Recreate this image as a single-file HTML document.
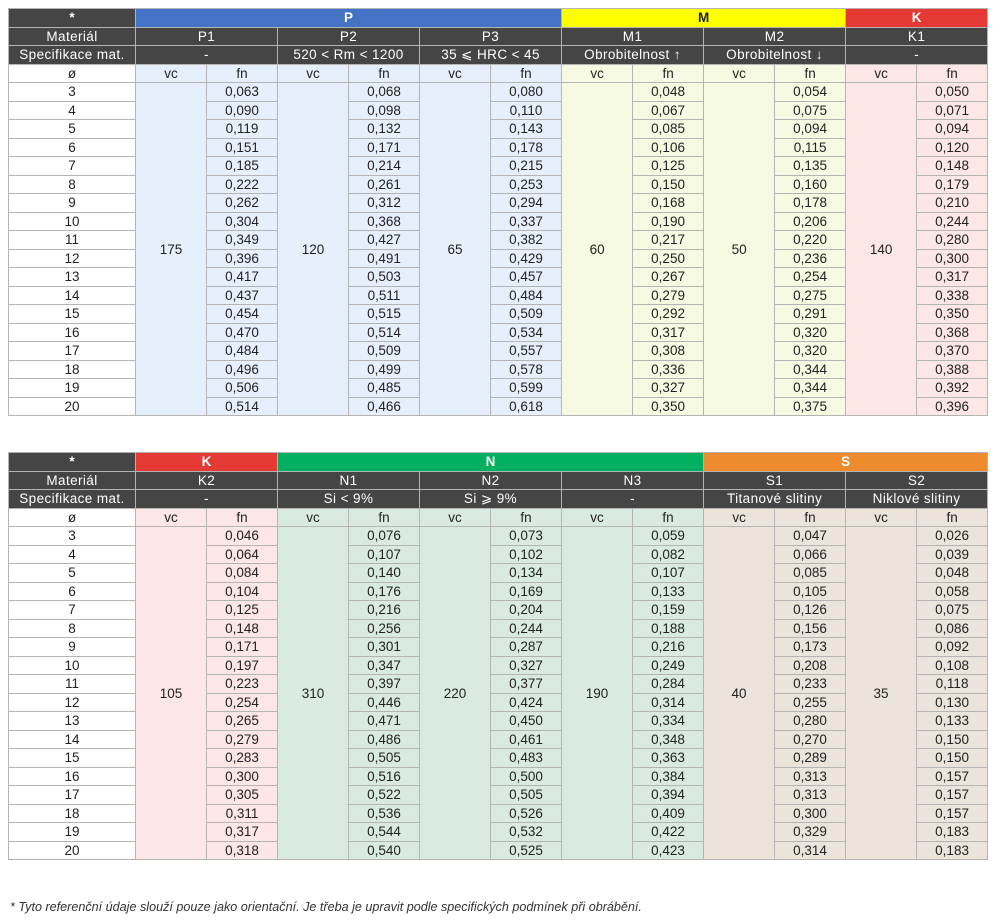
<!DOCTYPE html>
<html><head><meta charset="utf-8"><style>
body{margin:0;width:1000px;height:921px;background:#fff;position:relative;overflow:hidden;font-family:"Liberation Sans",sans-serif;}
table{position:absolute;left:8px;border-collapse:collapse;table-layout:fixed;width:979px;font-size:13.5px;color:#222;}
td{border:1px solid #b4b4b4;height:17.5px;padding:0;text-align:center;line-height:17px;white-space:nowrap;overflow:hidden;}
tr{height:18.5px;}
.d{background:#454545;color:#fff;}
.d td{letter-spacing:0.4px}
.h td{font-weight:bold;color:#fff;}
.bl{background:#4472c4}.ye{background:#ffff00;color:#222!important}.re{background:#e53935}.gr{background:#00b060}.or{background:#ee8b2e}
.p{background:#e6f0fc}.m{background:#f6fae3}.k{background:#fce6e6}.n{background:#d9ebe1}.s{background:#ece3da}
.w{background:#fff}
.fn{position:absolute;left:10px;top:900px;font-size:12.6px;font-style:italic;color:#333;}
</style></head><body>
<table style="top:8px">
<colgroup><col style="width:127px"><col span="12" style="width:71px"></colgroup>
<tr class="h"><td class="d">*</td><td colspan="6" class="bl">P</td><td colspan="4" class="ye">M</td><td colspan="2" class="re">K</td></tr>
<tr class="d"><td>Materiál</td><td colspan="2">P1</td><td colspan="2">P2</td><td colspan="2">P3</td><td colspan="2">M1</td><td colspan="2">M2</td><td colspan="2">K1</td></tr>
<tr class="d"><td>Specifikace mat.</td><td colspan="2">-</td><td colspan="2">520 &lt; Rm &lt; 1200</td><td colspan="2">35 ⩽ HRC &lt; 45</td><td colspan="2">Obrobitelnost ↑</td><td colspan="2">Obrobitelnost ↓</td><td colspan="2">-</td></tr>
<tr><td class="w">ø</td><td class="p">vc</td><td class="p">fn</td><td class="p">vc</td><td class="p">fn</td><td class="p">vc</td><td class="p">fn</td><td class="m">vc</td><td class="m">fn</td><td class="m">vc</td><td class="m">fn</td><td class="k">vc</td><td class="k">fn</td></tr>
<tr><td>3</td><td rowspan="18" class="p">175</td><td class="p">0,063</td><td rowspan="18" class="p">120</td><td class="p">0,068</td><td rowspan="18" class="p">65</td><td class="p">0,080</td><td rowspan="18" class="m">60</td><td class="m">0,048</td><td rowspan="18" class="m">50</td><td class="m">0,054</td><td rowspan="18" class="k">140</td><td class="k">0,050</td></tr>
<tr><td>4</td><td class="p">0,090</td><td class="p">0,098</td><td class="p">0,110</td><td class="m">0,067</td><td class="m">0,075</td><td class="k">0,071</td></tr>
<tr><td>5</td><td class="p">0,119</td><td class="p">0,132</td><td class="p">0,143</td><td class="m">0,085</td><td class="m">0,094</td><td class="k">0,094</td></tr>
<tr><td>6</td><td class="p">0,151</td><td class="p">0,171</td><td class="p">0,178</td><td class="m">0,106</td><td class="m">0,115</td><td class="k">0,120</td></tr>
<tr><td>7</td><td class="p">0,185</td><td class="p">0,214</td><td class="p">0,215</td><td class="m">0,125</td><td class="m">0,135</td><td class="k">0,148</td></tr>
<tr><td>8</td><td class="p">0,222</td><td class="p">0,261</td><td class="p">0,253</td><td class="m">0,150</td><td class="m">0,160</td><td class="k">0,179</td></tr>
<tr><td>9</td><td class="p">0,262</td><td class="p">0,312</td><td class="p">0,294</td><td class="m">0,168</td><td class="m">0,178</td><td class="k">0,210</td></tr>
<tr><td>10</td><td class="p">0,304</td><td class="p">0,368</td><td class="p">0,337</td><td class="m">0,190</td><td class="m">0,206</td><td class="k">0,244</td></tr>
<tr><td>11</td><td class="p">0,349</td><td class="p">0,427</td><td class="p">0,382</td><td class="m">0,217</td><td class="m">0,220</td><td class="k">0,280</td></tr>
<tr><td>12</td><td class="p">0,396</td><td class="p">0,491</td><td class="p">0,429</td><td class="m">0,250</td><td class="m">0,236</td><td class="k">0,300</td></tr>
<tr><td>13</td><td class="p">0,417</td><td class="p">0,503</td><td class="p">0,457</td><td class="m">0,267</td><td class="m">0,254</td><td class="k">0,317</td></tr>
<tr><td>14</td><td class="p">0,437</td><td class="p">0,511</td><td class="p">0,484</td><td class="m">0,279</td><td class="m">0,275</td><td class="k">0,338</td></tr>
<tr><td>15</td><td class="p">0,454</td><td class="p">0,515</td><td class="p">0,509</td><td class="m">0,292</td><td class="m">0,291</td><td class="k">0,350</td></tr>
<tr><td>16</td><td class="p">0,470</td><td class="p">0,514</td><td class="p">0,534</td><td class="m">0,317</td><td class="m">0,320</td><td class="k">0,368</td></tr>
<tr><td>17</td><td class="p">0,484</td><td class="p">0,509</td><td class="p">0,557</td><td class="m">0,308</td><td class="m">0,320</td><td class="k">0,370</td></tr>
<tr><td>18</td><td class="p">0,496</td><td class="p">0,499</td><td class="p">0,578</td><td class="m">0,336</td><td class="m">0,344</td><td class="k">0,388</td></tr>
<tr><td>19</td><td class="p">0,506</td><td class="p">0,485</td><td class="p">0,599</td><td class="m">0,327</td><td class="m">0,344</td><td class="k">0,392</td></tr>
<tr><td>20</td><td class="p">0,514</td><td class="p">0,466</td><td class="p">0,618</td><td class="m">0,350</td><td class="m">0,375</td><td class="k">0,396</td></tr>
</table>

<table style="top:452px">
<colgroup><col style="width:127px"><col span="12" style="width:71px"></colgroup>
<tr class="h"><td class="d">*</td><td colspan="2" class="re">K</td><td colspan="6" class="gr">N</td><td colspan="4" class="or">S</td></tr>
<tr class="d"><td>Materiál</td><td colspan="2">K2</td><td colspan="2">N1</td><td colspan="2">N2</td><td colspan="2">N3</td><td colspan="2">S1</td><td colspan="2">S2</td></tr>
<tr class="d"><td>Specifikace mat.</td><td colspan="2">-</td><td colspan="2">Si &lt; 9%</td><td colspan="2">Si ⩾ 9%</td><td colspan="2">-</td><td colspan="2">Titanové slitiny</td><td colspan="2">Niklové slitiny</td></tr>
<tr><td class="w">ø</td><td class="k">vc</td><td class="k">fn</td><td class="n">vc</td><td class="n">fn</td><td class="n">vc</td><td class="n">fn</td><td class="n">vc</td><td class="n">fn</td><td class="s">vc</td><td class="s">fn</td><td class="s">vc</td><td class="s">fn</td></tr>
<tr><td>3</td><td rowspan="18" class="k">105</td><td class="k">0,046</td><td rowspan="18" class="n">310</td><td class="n">0,076</td><td rowspan="18" class="n">220</td><td class="n">0,073</td><td rowspan="18" class="n">190</td><td class="n">0,059</td><td rowspan="18" class="s">40</td><td class="s">0,047</td><td rowspan="18" class="s">35</td><td class="s">0,026</td></tr>
<tr><td>4</td><td class="k">0,064</td><td class="n">0,107</td><td class="n">0,102</td><td class="n">0,082</td><td class="s">0,066</td><td class="s">0,039</td></tr>
<tr><td>5</td><td class="k">0,084</td><td class="n">0,140</td><td class="n">0,134</td><td class="n">0,107</td><td class="s">0,085</td><td class="s">0,048</td></tr>
<tr><td>6</td><td class="k">0,104</td><td class="n">0,176</td><td class="n">0,169</td><td class="n">0,133</td><td class="s">0,105</td><td class="s">0,058</td></tr>
<tr><td>7</td><td class="k">0,125</td><td class="n">0,216</td><td class="n">0,204</td><td class="n">0,159</td><td class="s">0,126</td><td class="s">0,075</td></tr>
<tr><td>8</td><td class="k">0,148</td><td class="n">0,256</td><td class="n">0,244</td><td class="n">0,188</td><td class="s">0,156</td><td class="s">0,086</td></tr>
<tr><td>9</td><td class="k">0,171</td><td class="n">0,301</td><td class="n">0,287</td><td class="n">0,216</td><td class="s">0,173</td><td class="s">0,092</td></tr>
<tr><td>10</td><td class="k">0,197</td><td class="n">0,347</td><td class="n">0,327</td><td class="n">0,249</td><td class="s">0,208</td><td class="s">0,108</td></tr>
<tr><td>11</td><td class="k">0,223</td><td class="n">0,397</td><td class="n">0,377</td><td class="n">0,284</td><td class="s">0,233</td><td class="s">0,118</td></tr>
<tr><td>12</td><td class="k">0,254</td><td class="n">0,446</td><td class="n">0,424</td><td class="n">0,314</td><td class="s">0,255</td><td class="s">0,130</td></tr>
<tr><td>13</td><td class="k">0,265</td><td class="n">0,471</td><td class="n">0,450</td><td class="n">0,334</td><td class="s">0,280</td><td class="s">0,133</td></tr>
<tr><td>14</td><td class="k">0,279</td><td class="n">0,486</td><td class="n">0,461</td><td class="n">0,348</td><td class="s">0,270</td><td class="s">0,150</td></tr>
<tr><td>15</td><td class="k">0,283</td><td class="n">0,505</td><td class="n">0,483</td><td class="n">0,363</td><td class="s">0,289</td><td class="s">0,150</td></tr>
<tr><td>16</td><td class="k">0,300</td><td class="n">0,516</td><td class="n">0,500</td><td class="n">0,384</td><td class="s">0,313</td><td class="s">0,157</td></tr>
<tr><td>17</td><td class="k">0,305</td><td class="n">0,522</td><td class="n">0,505</td><td class="n">0,394</td><td class="s">0,313</td><td class="s">0,157</td></tr>
<tr><td>18</td><td class="k">0,311</td><td class="n">0,536</td><td class="n">0,526</td><td class="n">0,409</td><td class="s">0,300</td><td class="s">0,157</td></tr>
<tr><td>19</td><td class="k">0,317</td><td class="n">0,544</td><td class="n">0,532</td><td class="n">0,422</td><td class="s">0,329</td><td class="s">0,183</td></tr>
<tr><td>20</td><td class="k">0,318</td><td class="n">0,540</td><td class="n">0,525</td><td class="n">0,423</td><td class="s">0,314</td><td class="s">0,183</td></tr>
</table>
<div class="fn">* Tyto referenční údaje slouží pouze jako orientační. Je třeba je upravit podle specifických podmínek při obrábění.</div>
</body></html>
